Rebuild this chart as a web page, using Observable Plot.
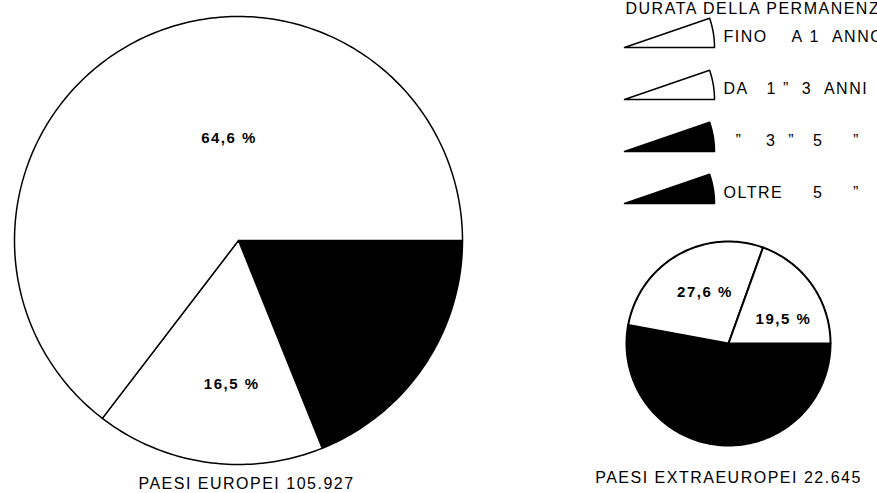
<!DOCTYPE html>
<html><head><meta charset="utf-8">
<script src="https://cdn.jsdelivr.net/npm/d3@7"></script>
<script src="https://cdn.jsdelivr.net/npm/@observablehq/plot@0.6"></script>
<style>body{margin:0;background:#fff}</style>
</head><body><div id="chart"></div>
<script>
// ---------- DATA ----------
const legendTitle = "DURATA DELLA PERMANENZA";
const durationCategories = ["FINO A 1 ANNO", "DA 1 A 3 ANNI", "DA 3 A 5 ANNI", "OLTRE 5 ANNI"];
const legendTexts = ["FINO    A 1  ANNO", "DA   1 ”  3  ANNI", "  ”    3  ”   5     ”", "OLTRE     5     ”"];
// pie slices, clockwise from 3 o'clock (black = over 3 years, both black categories merged)
const sliceGroups = ["OLTRE 3 ANNI", "DA 1 A 3 ANNI", "FINO A 1 ANNO"];
const europeiPct = [18.9, 16.5, 64.6];
const extraeuropeiPct = [52.9, 27.6, 19.5];
const areaNames = ["PAESI EUROPEI", "PAESI EXTRAEUROPEI"];
const areaTotals = [105927, 22645];

// ---------- STYLE / LAYOUT ----------
const categoryFill = ["white", "white", "black", "black"];
const sliceFill = ["black", "white", "white"];
const pieLayout = [
  {cx: 238, cy: 240, r: 224, sw: 1.5, titleX: 246, titleY: 488, labelNudge: [0, -5, 21], labelFrac: [0, 0.64, 0.46]},
  {cx: 728, cy: 343, r: 102, sw: 2, titleX: 728, titleY: 482, labelNudge: [0, 5, 11], labelFrac: [0, 0.55, 0.59]}
];
const legendLayout = {apexX: 624, apexY0: 47, step: 52, r: 90, angle: 19, textX: 723, textDy: -6, titleX: 625, titleY: 13};

const rad = d => d * Math.PI / 180;
function wedge(cx, cy, r, a0, a1, key, fill) {
  const pts = [{x: cx, y: cy, key, fill}];
  const n = Math.max(2, Math.ceil(Math.abs(a1 - a0)));
  for (let i = 0; i <= n; i++) {
    const a = rad(a0 + (a1 - a0) * i / n);
    pts.push({x: cx + r * Math.cos(a), y: cy + r * Math.sin(a), key, fill});
  }
  pts.push({x: cx, y: cy, key, fill});
  return pts;
}
const fmtPct = v => d3.format(".1f")(v).replace(".", ",") + " %";
const fmtTot = v => d3.format(",")(v).replace(/,/g, ".");
const nb = s => s.replace(/ /g, "\u00a0");

const pieSeries = [europeiPct, extraeuropeiPct];
const pieWedges = [], pieLabels = [], pieTitles = [];
pieSeries.forEach((vals, p) => {
  const L = pieLayout[p];
  const wedges = [];
  let a = 0;
  vals.forEach((v, i) => {
    const a1 = a + v / 100 * 360;
    wedges.push(...wedge(L.cx, L.cy, L.r, a, a1, p + "-" + sliceGroups[i], sliceFill[i]));
    if (sliceFill[i] !== "black") {
      const m = rad((a + a1) / 2 + L.labelNudge[i]);
      pieLabels.push({x: L.cx + L.r * L.labelFrac[i] * Math.cos(m), y: L.cy + L.r * L.labelFrac[i] * Math.sin(m), text: fmtPct(v)});
    }
    a = a1;
  });
  pieWedges.push(wedges);
  pieTitles.push({x: L.titleX, y: L.titleY, text: areaNames[p] + " " + fmtTot(areaTotals[p])});
});

const legendWedges = [], legendRows = [];
durationCategories.forEach((c, i) => {
  const ay = legendLayout.apexY0 + i * legendLayout.step;
  legendWedges.push(...wedge(legendLayout.apexX, ay, legendLayout.r, -legendLayout.angle, 0, c, categoryFill[i]));
  legendRows.push({x: legendLayout.textX, y: ay + legendLayout.textDy, text: nb(legendTexts[i])});
});

const chart = Plot.plot({
  width: 877, height: 493, margin: 0,
  x: {domain: [0, 877], range: [0, 877], axis: null},
  y: {domain: [0, 493], range: [0, 493], axis: null},
  color: {type: "identity"},
  style: {fontFamily: "'Liberation Sans', Arial, sans-serif", letterSpacing: "1.5px", background: "white", color: "black"},
  marks: [
    Plot.line(pieWedges[0], {x: "x", y: "y", z: "key", fill: "fill", stroke: "black", strokeWidth: pieLayout[0].sw}),
    Plot.line(pieWedges[1], {x: "x", y: "y", z: "key", fill: "fill", stroke: "black", strokeWidth: pieLayout[1].sw}),
    Plot.line(legendWedges, {x: "x", y: "y", z: "key", fill: "fill", stroke: "black", strokeWidth: 1.5}),
    Plot.text(pieLabels, {x: "x", y: "y", text: "text", fontSize: 15, fontWeight: "bold", lineAnchor: "middle"}),
    Plot.text(pieTitles, {x: "x", y: "y", text: "text", fontSize: 16, lineAnchor: "bottom"}),
    Plot.text([{x: legendLayout.titleX, y: legendLayout.titleY, text: legendTitle}], {x: "x", y: "y", text: "text", fontSize: 16, textAnchor: "start", lineAnchor: "bottom"}),
    Plot.text(legendRows, {x: "x", y: "y", text: "text", fontSize: 16, textAnchor: "start", lineAnchor: "bottom"})
  ]
});
document.getElementById("chart").appendChild(chart);
</script>
</body></html>
